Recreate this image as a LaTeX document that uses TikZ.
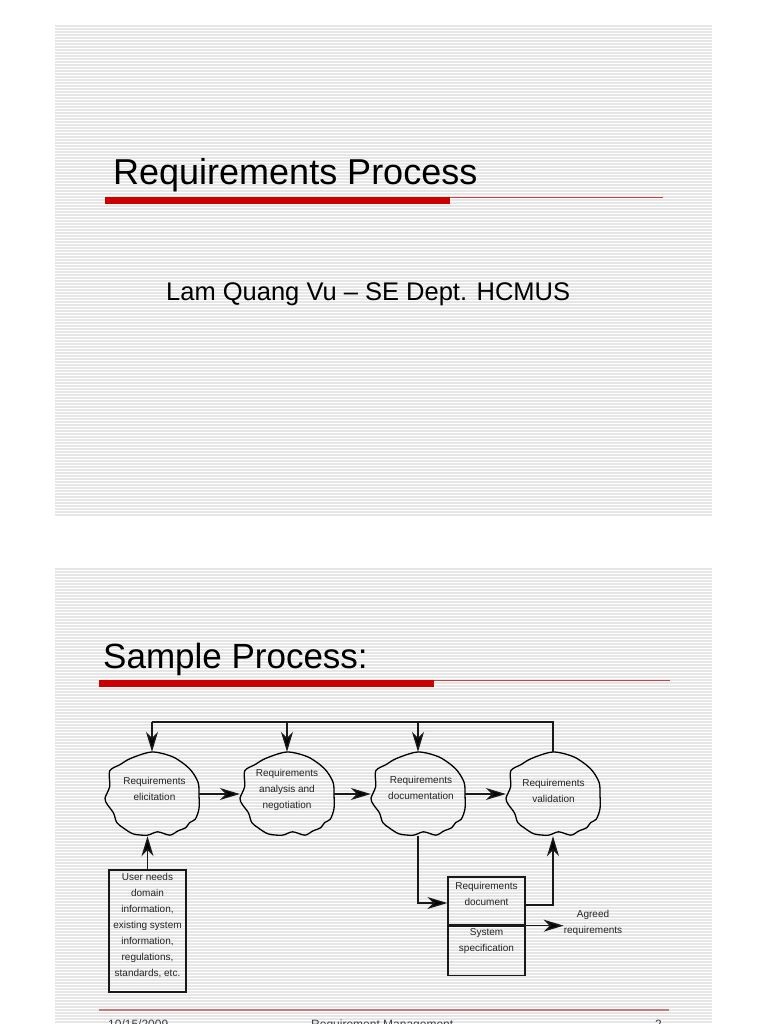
\documentclass[tikz,border=0pt]{standalone}
\usepackage{fontspec}
\setmainfont{Liberation Sans}
\usetikzlibrary{arrows.meta,calc}
\definecolor{slidered}{RGB}{204,0,0}
\definecolor{thinred}{RGB}{215,60,60}
\definecolor{footred}{RGB}{205,120,120}
\definecolor{stripe}{RGB}{230,230,230}
\definecolor{ink}{RGB}{35,35,35}
\newcommand{\blobshape}[1]{%
  \begin{scope}[shift={(#1.center)},xscale=47,yscale=42]
    \draw[blobline] plot[smooth cycle,tension=0.5] coordinates {
      (0,-1) (0.45,-0.88) (0.8,-0.6) (0.98,-0.28) (1.0,0.02) (1.0,0.35)
      (0.92,0.6) (0.8,0.68) (0.72,0.8) (0.55,0.88) (0.38,0.98) (0.12,0.9)
      (-0.1,0.98) (-0.4,0.95) (-0.62,0.8) (-0.75,0.68) (-0.82,0.45)
      (-0.95,0.25) (-1.0,0.1) (-0.9,-0.18) (-0.9,-0.55) (-0.68,-0.7)
      (-0.45,-0.85)};
  \end{scope}}
\begin{document}
\begin{tikzpicture}[x=1pt,y=-1pt,
  conn/.style={line width=1.4pt,draw=black!90},
  arr/.style={-{Stealth[length=20pt,width=12pt,inset=6pt,fill=black]}},
  blobline/.style={line width=1.3pt,draw=black},
  small/.style={font=\fontsize{10}{16}\selectfont,text=ink,align=center,inner sep=0pt},
  cloudnode/.style={minimum width=94pt,minimum height=84pt,inner sep=0pt},
  boxnode/.style={draw=black!90,line width=1.3pt,minimum width=77pt,inner sep=0pt},
  titlefont/.style={anchor=base west,inner sep=0pt,text=black},
  foot/.style={anchor=base west,inner sep=0pt,font=\fontsize{12}{14}\selectfont,text=black!75}
  ]
\useasboundingbox (0,0) rectangle (768,1024);
\clip (0,0) rectangle (768,1024);
\fill[white] (0,0) rectangle (768,1024);
% striped slide backgrounds
\foreach \yy in {26,29,...,516} \draw[stripe,line width=1.2pt] (55,\yy) -- (712,\yy);
\foreach \yy in {569,572,...,1024} \draw[stripe,line width=1.2pt] (55,\yy) -- (712,\yy);

% ---- slide 1
\node[titlefont,font=\fontsize{36}{40}\selectfont] (t1) at (113,185) {Requirements Process};
\fill[slidered] (105,197) rectangle (450,204.5);
\draw[thinred,line width=1.1pt] (450,197.6) -- (663,197.6);
\node[titlefont,font=\fontsize{25.5}{30}\selectfont] (s1) at (166,300) {Lam Quang Vu – SE Dept. HCMUS};

% ---- slide 2
\node[titlefont,font=\fontsize{35}{40}\selectfont] (t2) at (103,668) {Sample Process:};
\fill[slidered] (99,679.5) rectangle (434,687);
\draw[thinred,line width=1.1pt] (434,680.1) -- (670,680.1);

% clouds
\node[cloudnode] (c1) at (152,794) {};
\node[cloudnode] (c2) at (287,794) {};
\node[cloudnode] (c3) at (418,794) {};
\node[cloudnode] (c4) at (553,794) {};
\blobshape{c1}
\blobshape{c2}
\blobshape{c3}
\blobshape{c4}
\node[small] (c1t) at (154.5,789) {Requirements\\elicitation};
\node[small] (c2t) at (287,790) {Requirements\\analysis and\\negotiation};
\node[small] (c3t) at (421,788) {Requirements\\documentation};
\node[small] (c4t) at (553.5,791) {Requirements\\validation};

% boxes
\node[boxnode,minimum height=122pt] (u) at (147.5,931) {};
\node[small] (ut) at (147.5,926) {User needs\\domain\\information,\\existing system\\information,\\regulations,\\standards, etc.};
\node[boxnode,minimum height=48pt] (rd1) at (486.5,901) {};
\node[boxnode,minimum height=49pt,anchor=north] (rd2) at (rd1.south) {};
\node[small] (rd1t) at (486.5,894) {Requirements\\document};
\node[small] (rd2t) at (486.5,941) {System\\specification};
\node[small] (ag) at (593,923) {Agreed\\requirements};

% connectors
\coordinate (top) at (0,722);
\draw[conn] (c4.north) -- (c4.north |- top) -- (c1.north |- top);
\draw[conn,arr] (c1.north |- top) -- (c1.north);
\draw[conn,arr] (c2.north |- top) -- (c2.north);
\draw[conn,arr] (c3.north |- top) -- (c3.north);
\draw[conn,arr] (c1.east) -- (c2.west);
\draw[conn,arr] (c2.east) -- (c3.west);
\draw[conn,arr] (c3.east) -- (c4.west);
\draw[conn,arr] (u.north) -- (u.north |- c1.south);
\draw[conn,arr] (c3.south) |- ([yshift=-2pt]rd1.west);
\draw[conn,arr] ([yshift=-4pt]rd1.east) -| (c4.south);
\draw[conn,arr] (rd2.north east) -- (rd2.north east -| ag.west);

% footer
\draw[footred,line width=1.2pt] (99,1010) -- (669,1010);
\node[foot] (f1) at (108,1028) {10/15/2009};
\node[foot] (f2) at (311,1028) {Requirement Management};
\node[foot] (f3) at (655,1028) {2};
\end{tikzpicture}
\end{document}
